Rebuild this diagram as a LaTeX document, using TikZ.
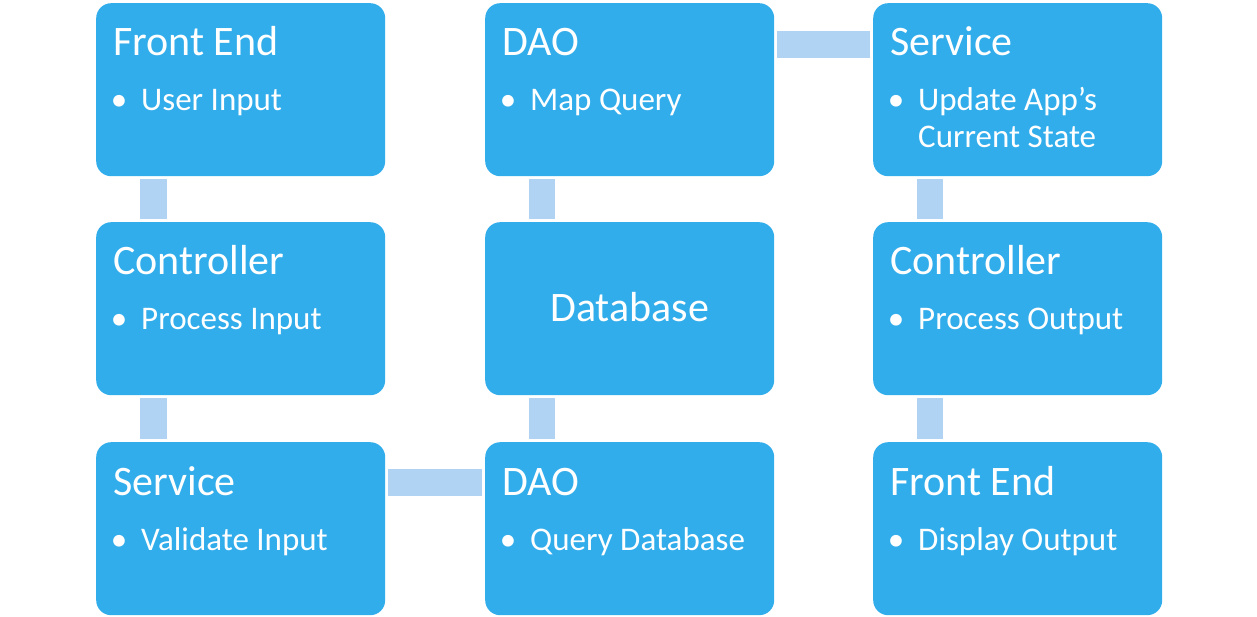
\documentclass[tikz,border=0pt]{standalone}
\usepackage{fontspec}
\setmainfont{Carlito}
\definecolor{boxblue}{RGB}{50,173,235}
\definecolor{connblue}{RGB}{176,211,243}
\begin{document}
\begin{tikzpicture}[x=1pt,y=1pt,
  box/.style={fill=boxblue, draw=none, rounded corners=15pt, minimum width=289pt, minimum height=173pt, inner sep=0pt, anchor=north west},
  title/.style={text=white, inner sep=0pt, anchor=base west, font=\fontsize{42}{48}\selectfont},
  itemtext/.style={text=white, inner sep=0pt, anchor=base west, font=\fontsize{33}{37}\selectfont},
  bul/.style={text=white, inner sep=0pt, anchor=base, font=\fontsize{33}{37}\selectfont},
  conn/.style={fill=connblue, draw=none}]
\useasboundingbox (0,0) rectangle (1257,-617);
% boxes
\node[box] (fe1) at (96,-3) {};
\node[box] (ct1) at (96,-222) {};
\node[box] (sv1) at (96,-442) {};
\node[box] (dao1) at (485,-3) {};
\node[box] (db) at (485,-222) {};
\node[box] (dao2) at (485,-442) {};
\node[box] (sv2) at (873,-3) {};
\node[box] (ct2) at (873,-222) {};
\node[box] (fe2) at (873,-442) {};
% connectors
\fill[conn] ([xshift=44pt,yshift=-3pt]fe1.south west) rectangle ([xshift=71pt,yshift=3pt]ct1.north west);
\fill[conn] ([xshift=44pt,yshift=-3pt]ct1.south west) rectangle ([xshift=71pt,yshift=3pt]sv1.north west);
\fill[conn] ([xshift=3pt,yshift=-27pt]sv1.north east) rectangle ([xshift=-3pt,yshift=-54pt]dao2.north west);
\fill[conn] ([xshift=44pt,yshift=3pt]dao2.north west) rectangle ([xshift=70pt,yshift=-3pt]db.south west);
\fill[conn] ([xshift=44pt,yshift=3pt]db.north west) rectangle ([xshift=70pt,yshift=-3pt]dao1.south west);
\fill[conn] ([xshift=3pt,yshift=-28pt]dao1.north east) rectangle ([xshift=-3pt,yshift=-55pt]sv2.north west);
\fill[conn] ([xshift=44pt,yshift=-3pt]sv2.south west) rectangle ([xshift=70pt,yshift=3pt]ct2.north west);
\fill[conn] ([xshift=44pt,yshift=-3pt]ct2.south west) rectangle ([xshift=70pt,yshift=3pt]fe2.north west);
% texts
\foreach \b/\t/\i in {fe1/Front End/User Input, ct1/Controller/Process Input, sv1/Service/Validate Input, dao1/DAO/Map Query, dao2/DAO/Query Database, ct2/Controller/Process Output, fe2/Front End/Display Output}{
  \node[title] (\b-t) at ([xshift=17pt,yshift=-53pt]\b.north west) {\t};
  \node[bul] (\b-b) at ([xshift=23pt,yshift=-108pt]\b.north west) {•};
  \node[itemtext] (\b-i) at ([xshift=45pt,yshift=-108pt]\b.north west) {\i};
}
\node[title] (sv2-t) at ([xshift=17pt,yshift=-53pt]sv2.north west) {Service};
\node[bul] (sv2-b) at ([xshift=23pt,yshift=-108pt]sv2.north west) {•};
\node[itemtext] (sv2-i) at ([xshift=45pt,yshift=-108pt]sv2.north west) {\begin{tabular}[t]{@{}l@{}}Update App’s\\Current State\end{tabular}};
\node[title, anchor=base] (db-t) at ([yshift=-99pt]db.north) {Database};
\end{tikzpicture}
\end{document}
